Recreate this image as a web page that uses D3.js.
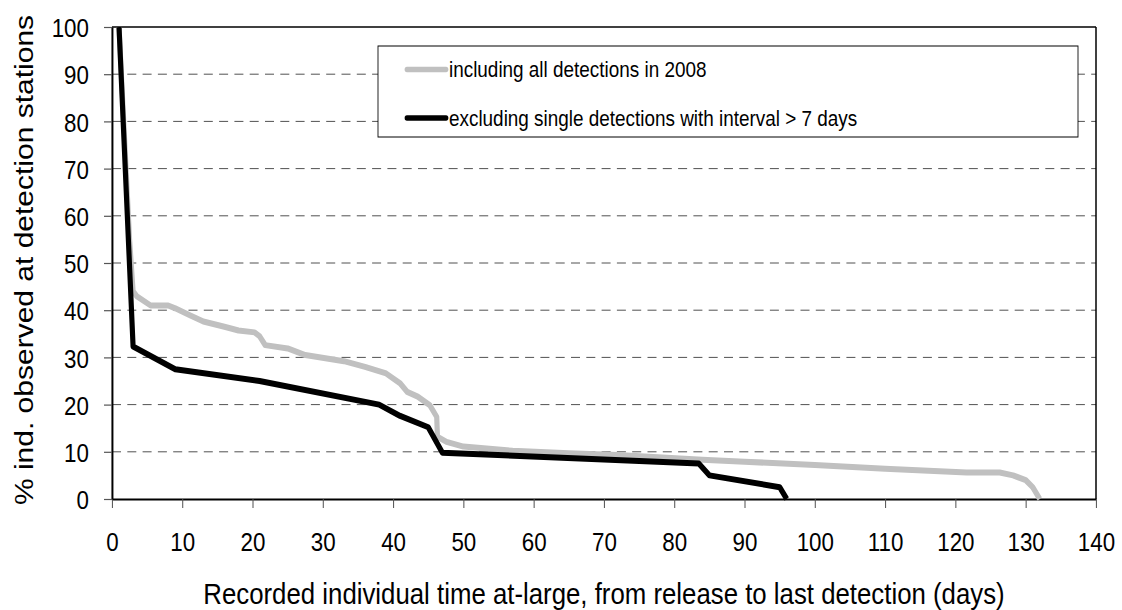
<!DOCTYPE html>
<html><head><meta charset="utf-8">
<script src="https://cdn.jsdelivr.net/npm/d3@7"></script>
<style>
html,body{margin:0;padding:0;background:#fff;}
svg{display:block;font-family:"Liberation Sans",Arial,Helvetica,sans-serif;}
</style>
</head><body>
<svg id="chart" width="1122" height="610"></svg>
<script>
// ---------- data ----------
const xTickValues = [0,10,20,30,40,50,60,70,80,90,100,110,120,130,140];
const yTickValues = [0,10,20,30,40,50,60,70,80,90,100];
const gridValues = [10,20,30,40,50,60,70,80,90];

const seriesNames = ["including all detections in 2008",
                     "excluding single detections with interval > 7 days"];

// including all detections in 2008 (grey)
const inclDays = [1,2.5,3,3.5,5.5,8,9,11,13,16,18,20.3,21,21.8,25,27.5,33,36,39,41,42,43.5,45.2,46.2,46.3,47.6,50,57,65,72,84,90,100,110,121.6,126.3,128.2,130,131,132];
const inclPct  = [100,55,44,43,41,41,40.4,39,37.6,36.5,35.7,35.3,34.5,32.6,31.9,30.5,29.2,28,26.6,24.5,22.7,21.7,19.9,17.4,13.2,12.1,11.1,10.2,9.7,9.3,8.3,7.9,7.2,6.4,5.6,5.6,5.0,4.0,2.5,0];

// excluding single detections with interval > 7 days (black)
const exclDays = [1,3,9,21,38,41,45,47,83.5,85,95,96];
const exclPct  = [100,32.3,27.5,25,20,17.6,15.2,9.8,7.5,5,2.5,0];

const xTitle = "Recorded individual time at-large, from release to last detection (days)";
const yTitle = "% ind. observed at detection stations";

// ---------- layout ----------
const S = 0.86;               // horizontal compression of the original
const svg = d3.select("#chart");
const g = svg.append("g").attr("transform", `scale(${S},1)`);

const x = d3.scaleLinear().domain([0,140]).range([112/S, 1096/S]);
const y = d3.scaleLinear().domain([0,100]).range([499, 27]);

// gridlines
g.append("g").selectAll("line").data(gridValues).join("line")
  .attr("x1", x(0)).attr("x2", x(140))
  .attr("y1", d => y(d)).attr("y2", d => y(d))
  .attr("stroke", "#444").attr("stroke-width", 1)
  .attr("stroke-dasharray", `${9/S},${6.3/S}`);

// plot frame top/right
g.append("line").attr("x1", x(0)).attr("x2", x(140)).attr("y1", y(100)).attr("y2", y(100))
  .attr("stroke", "#000").attr("stroke-width", 1.5);
g.append("line").attr("x1", x(140)).attr("x2", x(140)).attr("y1", y(100)).attr("y2", y(0))
  .attr("stroke", "#000").attr("stroke-width", 1.5/S);

// axes
const xAxis = d3.axisBottom(x).tickValues(xTickValues).tickSize(9).tickPadding(25).tickSizeOuter(0);
const yAxis = d3.axisLeft(y).tickValues(yTickValues).tickSize(8/S).tickPadding(17.5).tickSizeOuter(0);

const gx = g.append("g").attr("transform", `translate(0,${y(0)})`).call(xAxis);
const gy = g.append("g").attr("transform", `translate(${x(0)},0)`).call(yAxis);
[gx, gy].forEach(a => {
  a.select(".domain").attr("stroke", "#000").attr("stroke-width", 2);
  a.selectAll(".tick line").attr("stroke", "#555").attr("stroke-width", 1.2);
  a.selectAll(".tick text").attr("fill", "#000").attr("font-size", 26)
    .attr("font-family", '"Liberation Sans",Arial,sans-serif');
});
gy.select(".domain").attr("stroke-width", 2/S);
gy.selectAll(".tick text").attr("dy", "0.37em");

// lines
const line = d3.line().x(d => x(d[0])).y(d => y(d[1]));
const inclData = inclDays.map((d,i) => [d, inclPct[i]]);
const exclData = exclDays.map((d,i) => [d, exclPct[i]]);

g.append("path").datum(inclData).attr("d", line)
  .attr("fill", "none").attr("stroke", "#c0c0c0").attr("stroke-width", 6)
  .attr("stroke-linejoin", "round");
g.append("path").datum(exclData).attr("d", line)
  .attr("fill", "none").attr("stroke", "#000").attr("stroke-width", 6)
  .attr("stroke-linejoin", "round");

// legend
const lg = g.append("g");
lg.append("rect").attr("x", 378/S).attr("y", 46).attr("width", (1078-378)/S).attr("height", 91)
  .attr("fill", "#fff").attr("stroke", "#000").attr("stroke-width", 1);
const legendColors = ["#c0c0c0", "#000"];
const legendY = [69.5, 118];
seriesNames.forEach((name, i) => {
  lg.append("line").attr("x1", 407/S).attr("x2", 446/S).attr("y1", legendY[i]).attr("y2", legendY[i])
    .attr("stroke", legendColors[i]).attr("stroke-width", 5.5).attr("stroke-linecap", "round");
  lg.append("text").attr("x", 449/S).attr("y", legendY[i]).attr("dy", "0.36em")
    .attr("font-size", 22).attr("fill", "#000").text(name);
});

// axis titles
g.append("text").attr("x", 604/S).attr("y", 604.5).attr("text-anchor", "middle")
  .attr("font-size", 30).attr("fill", "#000").text(xTitle);
g.append("text").attr("transform", `translate(${33/S},260) rotate(-90)`)
  .attr("text-anchor", "middle").attr("font-size", 30).attr("fill", "#000").text(yTitle);
</script>
</body></html>
